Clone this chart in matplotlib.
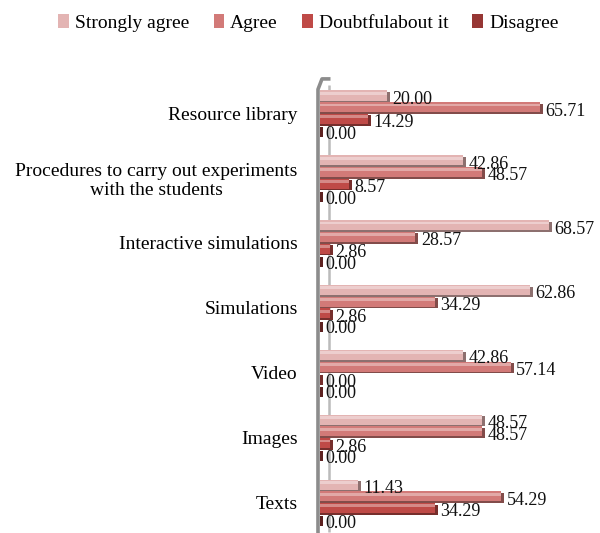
import matplotlib
matplotlib.use("Agg")
import matplotlib.pyplot as plt
import numpy as np
from matplotlib.patches import Patch
from matplotlib.colors import to_rgb

categories = ["Resource library",
              "Procedures to carry out experiments\nwith the students",
              "Interactive simulations",
              "Simulations",
              "Video",
              "Images",
              "Texts"]
series_names = ["Strongly agree", "Agree", "Doubtful about it", "Disagree"]
strongly_agree = [20.00, 42.86, 68.57, 62.86, 42.86, 48.57, 11.43]
agree = [65.71, 48.57, 28.57, 34.29, 57.14, 48.57, 54.29]
doubtful = [14.29, 8.57, 2.86, 2.86, 0.00, 2.86, 34.29]
disagree = [0.00, 0.00, 0.00, 0.00, 0.00, 0.00, 0.00]
series_values = [strongly_agree, agree, doubtful, disagree]
legend_labels = ["Strongly agree", "Agree", "Doubtfulabout it", "Disagree"]

colors = ["#E3B4B3", "#D27A78", "#BF4A47", "#963634"]

def shade(c, f):
    r, g, b = to_rgb(c)
    return (r * f, g * f, b * f)

def tint(c, f):
    r, g, b = to_rgb(c)
    return (r + (1 - r) * f, g + (1 - g) * f, b + (1 - b) * f)

plt.rcParams['font.family'] = ['Liberation Serif', 'DejaVu Serif']

fig = plt.figure(figsize=(6.0, 5.33), dpi=100)
W, H = 600, 533
ax = fig.add_axes([320 / W, 1 - 532 / H, (590 - 320) / W, (532 - 78) / H])

y = np.arange(len(categories))
step = 0.18
h = 0.155
for i, (vals, c) in enumerate(zip(series_values, colors)):
    pos = y + (i - 1.5) * step
    v = np.array(vals)
    # shadow (depth)
    ax.barh(pos + 0.025, v + 0.9, height=h, left=0, color=shade(c, 0.62), zorder=3)
    # main face
    ax.barh(pos, v, height=h, left=0, color=c, zorder=4)
    # highlight
    ax.barh(pos - h * 0.22, v, height=h * 0.28, left=0, color=tint(c, 0.35), zorder=5)
    for p, val in zip(pos, v):
        ax.text(val + 1.6, p + 0.06, f"{val:.2f}", va='center', ha='left',
                fontsize=13, color='#111111', zorder=6)

ax.set_xlim(0, 80.8)
ax.set_ylim(6.46, -0.54)
ax.set_yticks(y)
ax.set_yticklabels(categories, fontsize=14)
for t in ax.get_yticklabels():
    t.set_multialignment('center')
ax.tick_params(axis='y', length=0, pad=16)
ax.set_xticks([])
for s in ax.spines.values():
    s.set_visible(False)

# 3D wall lines (x in data units, y in axes fraction)
trans = ax.get_xaxis_transform()
ax.plot([2.6, 2.6], [0.0, 0.985], transform=trans, color='#BBBBBB', lw=1.8,
        zorder=1, clip_on=False, solid_capstyle='butt')
ax.plot([-0.6, -0.6, 0.6, 2.6], [0.0, 0.975, 0.998, 0.998], transform=trans,
        color='#8C8C8C', lw=2.6, zorder=7, clip_on=False,
        solid_joinstyle='round')

handles = [Patch(facecolor=c, edgecolor='none') for c in colors]
fig.legend(handles, legend_labels, loc='center', bbox_to_anchor=(0.514, 1 - 23 / H),
           ncol=4, frameon=False, fontsize=14, handlelength=0.55, handleheight=0.7,
           handletextpad=0.3, columnspacing=1.25)

fig.savefig("out.png", dpi=100)
